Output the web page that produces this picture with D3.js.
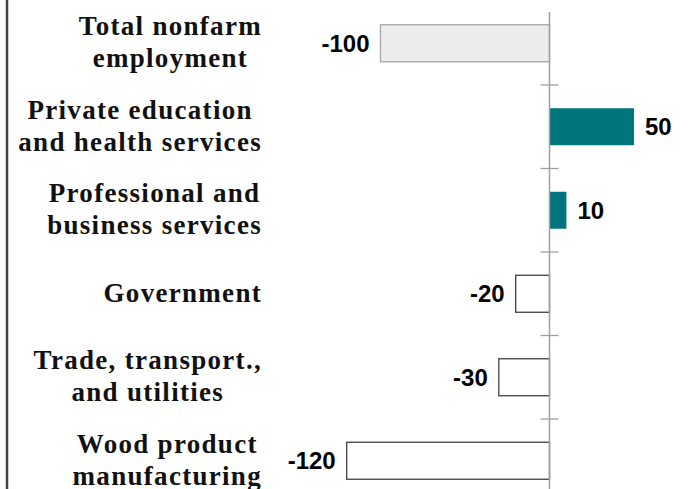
<!DOCTYPE html>
<html>
<head>
<meta charset="utf-8">
<script src="https://cdn.jsdelivr.net/npm/d3@7"></script>
<style>
  html, body { margin: 0; padding: 0; background: #ffffff; }
  svg { display: block; }
</style>
</head>
<body>
<div id="chart"></div>
<script>
// categories (each label broken into lines as in the picture)
var categories = ["Total nonfarm employment", "Private education and health services",
  "Professional and business services", "Government",
  "Trade, transport., and utilities", "Wood product manufacturing"];
var labelLines = [["Total nonfarm", "employment"], ["Private education", "and health services"],
  ["Professional and", "business services"], ["Government"],
  ["Trade, transport.,", "and utilities"], ["Wood product", "manufacturing"]];
var values = [-100, 50, 10, -20, -30, -120];
var isTotal = [true, false, false, false, false, false];

var W = 688, H = 489;
var labelRight = 262;

var svg = d3.select("#chart").append("svg")
  .attr("width", W)
  .attr("height", H);

var x = d3.scaleLinear()
  .domain([-200, 100])
  .range([211.5, 718.5]);

var y = d3.scaleBand()
  .domain(categories)
  .range([1.5, 502.5])
  .padding(0);

var barH = 37;

// left frame line
svg.append("line")
  .attr("x1", 7).attr("x2", 7)
  .attr("y1", 0).attr("y2", H)
  .attr("stroke", "#444444")
  .attr("stroke-width", 2.5);

// bars
svg.selectAll(".bar")
  .data(values)
  .enter().append("rect")
  .attr("class", "bar")
  .attr("x", function(d){ return Math.min(x(d), x(0)); })
  .attr("y", function(d, i){ return y(categories[i]) + y.bandwidth()/2 - barH/2; })
  .attr("width", function(d){ return Math.abs(x(d) - x(0)); })
  .attr("height", barH)
  .style("fill", function(d, i){
    if(isTotal[i]) return "#ececec";
    return d > 0 ? "#00757d" : "#ffffff";
  })
  .style("stroke", function(d, i){
    if(isTotal[i]) return "#a6a6a6";
    return d > 0 ? "#00757d" : "#404040";
  })
  .style("stroke-width", function(d){ return d > 0 ? 0 : 1.3; });

// zero axis
svg.append("line")
  .attr("x1", x(0)).attr("x2", x(0))
  .attr("y1", 12).attr("y2", H)
  .attr("stroke", "#a0a0a0")
  .attr("stroke-width", 1.5);

// tick marks between categories
svg.selectAll(".tick")
  .data(categories.slice(1))
  .enter().append("line")
  .attr("class", "tick")
  .attr("x1", x(0) - 9).attr("x2", x(0) + 9)
  .attr("y1", function(d){ return y(d); })
  .attr("y2", function(d){ return y(d); })
  .attr("stroke", "#a0a0a0")
  .attr("stroke-width", 1.3);

// value labels
svg.selectAll(".val")
  .data(values)
  .enter().append("text")
  .attr("class", "val")
  .attr("x", function(d){ return d > 0 ? x(d) + 11 : x(d) - 11; })
  .attr("y", function(d, i){ return y(categories[i]) + y.bandwidth()/2 + 8.5; })
  .attr("text-anchor", function(d){ return d > 0 ? "start" : "end"; })
  .style("font-family", "'Liberation Sans', Arial, sans-serif")
  .style("font-weight", "bold")
  .style("font-size", "24px")
  .style("fill", "#000000")
  .text(function(d){ return d; });

// category labels, lines centred inside a right-aligned block
var catGroup = svg.selectAll(".cat")
  .data(labelLines)
  .enter().append("g")
  .attr("class", "cat");

catGroup.each(function(lines, i){
  var g = d3.select(this);
  var c = y(categories[i]) + y.bandwidth()/2;
  var texts = g.selectAll("text")
    .data(lines)
    .enter().append("text")
    .attr("y", function(d, j){
      if(lines.length == 1) return c + 8;
      return c - 8 + j*32;
    })
    .attr("text-anchor", "middle")
    .style("font-family", "'Liberation Serif', 'Times New Roman', serif")
    .style("font-weight", "bold")
    .style("font-size", "27px")
    .style("letter-spacing", "1.3px")
    .style("fill", "#111111")
    .text(function(d){ return d; });
  var maxW = 0;
  texts.each(function(){ maxW = Math.max(maxW, this.getComputedTextLength()); });
  texts.attr("x", labelRight - maxW/2);
});
</script>
</body>
</html>
